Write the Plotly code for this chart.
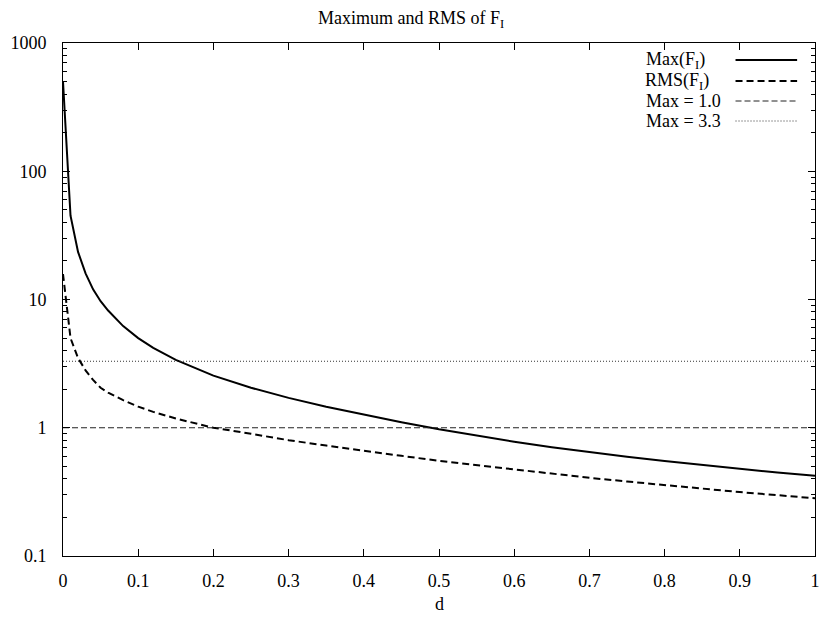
import plotly.graph_objects as go

# Sample positions along d and the two measured curves
d_values = [0.0, 0.01, 0.02, 0.03, 0.04, 0.05, 0.06, 0.08, 0.10, 0.12, 0.15,
            0.20, 0.25, 0.30, 0.35, 0.40, 0.45, 0.50, 0.55, 0.60, 0.65, 0.70,
            0.75, 0.80, 0.85, 0.90, 0.95, 1.00]
max_fi = [500, 45, 23.5, 16, 12, 9.7, 8.2, 6.2, 5.0, 4.2, 3.38,
          2.55, 2.05, 1.71, 1.46, 1.265, 1.105, 0.972, 0.865, 0.777, 0.705, 0.645,
          0.595, 0.550, 0.511, 0.477, 0.447, 0.423]
rms_fi = [15.8, 5.0, 3.5, 2.8, 2.36, 2.05, 1.88, 1.64, 1.46, 1.33, 1.18,
          1.0, 0.897, 0.80, 0.726, 0.658, 0.604, 0.552, 0.510, 0.471, 0.438, 0.407,
          0.381, 0.356, 0.336, 0.315, 0.298, 0.282]

# Reference levels
level_lo = 1.0
level_hi = 3.3
level_x = [0.0, 1.0]

x_ticks = [0, 0.1, 0.2, 0.3, 0.4, 0.5, 0.6, 0.7, 0.8, 0.9, 1]
x_ticktext = ["0", "0.1", "0.2", "0.3", "0.4", "0.5", "0.6", "0.7", "0.8", "0.9", "1"]
y_ticks = [0.1, 1, 10, 100, 1000]
y_ticktext = ["0.1", "1", "10", "100", "1000"]

legend_labels = ["Max(F<sub>I</sub>)", "RMS(F<sub>I</sub>)", "Max = 1.0", "Max = 3.3"]

FONT = "Liberation Serif, Times New Roman, DejaVu Serif, serif"
FS = 18

W, H = 822, 619
L, R, T, B = 63, 2, 43, 63
PW, PH = W - L - R, H - T - B


def px_x(p):
    return (p - L) / PW


def px_y(p):
    return (H - B - p) / PH


styles = [
    dict(color="black", width=2, dash="solid"),
    dict(color="black", width=2, dash="7px,4px"),
    dict(color="#222", width=1, dash="6px,3px"),
    dict(color="#333", width=1, dash="1px,2px"),
]

fig = go.Figure()
fig.add_trace(go.Scatter(x=d_values, y=max_fi, mode="lines", line=styles[0],
                         name="Max(F_I)", showlegend=False))
fig.add_trace(go.Scatter(x=d_values, y=rms_fi, mode="lines", line=styles[1],
                         name="RMS(F_I)", showlegend=False))
fig.add_trace(go.Scatter(x=level_x, y=[level_lo, level_lo], mode="lines",
                         line=styles[2], name="Max = 1.0", showlegend=False))
fig.add_trace(go.Scatter(x=level_x, y=[level_hi, level_hi], mode="lines",
                         line=styles[3], name="Max = 3.3", showlegend=False))

# Key in the top-right corner: right-aligned labels followed by line samples
key_rows = [60, 81, 101, 121]
key_text_right = [711, 715, 727, 727]
annotations = []
shapes = []
for lab, row, xr, st in zip(legend_labels, key_rows, key_text_right, styles):
    annotations.append(dict(
        text=lab, xref="paper", yref="paper", x=px_x(xr), y=px_y(row),
        xanchor="right", yanchor="middle", showarrow=False,
        font=dict(family=FONT, size=FS, color="black")))
    shapes.append(dict(
        type="line", xref="paper", yref="paper",
        x0=px_x(740), x1=px_x(802), y0=px_y(row), y1=px_y(row),
        line=st))

annotations.append(dict(
    text="d", xref="paper", yref="paper", x=0.5, y=px_y(604),
    xanchor="center", yanchor="middle", showarrow=False,
    font=dict(family=FONT, size=FS, color="black")))

minor_y = [m * 10 ** e for e in range(-1, 3) for m in range(2, 10)]

fig.update_layout(
    width=W, height=H,
    margin=dict(l=L, r=R, t=T, b=B),
    paper_bgcolor="white", plot_bgcolor="white",
    font=dict(family=FONT, size=FS, color="black"),
    title=dict(text="Maximum and RMS of F<sub>I</sub>", x=px_x(441.5),
               xanchor="center", y=1 - 18 / H, yanchor="middle",
               font=dict(family=FONT, size=FS, color="black")),
    annotations=annotations,
    shapes=shapes,
    showlegend=False,
    xaxis=dict(range=[0, 1], tickvals=x_ticks, ticktext=x_ticktext,
               ticks="inside", ticklen=7, tickcolor="black", tickwidth=1,
               showline=True, linecolor="black", linewidth=1, mirror="allticks",
               showgrid=False, zeroline=False, ticklabelstandoff=8,
               ticklabeloverflow="allow"),
    yaxis=dict(type="log", range=[-1, 3], tickvals=y_ticks, ticktext=y_ticktext,
               ticks="inside", ticklen=7, tickcolor="black", tickwidth=1,
               showline=True, linecolor="black", linewidth=1, mirror="allticks",
               showgrid=False, zeroline=False, ticklabelstandoff=12,
               minor=dict(tickvals=minor_y, ticks="inside", ticklen=4,
                          tickcolor="black", tickwidth=1, showgrid=False)),
)

fig.write_html("out.html")
